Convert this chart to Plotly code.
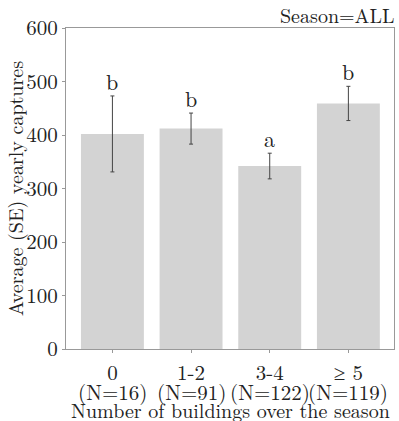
import plotly.graph_objects as go

categories = ["0", "1-2", "3-4", "≥ 5"]
n_labels = ["(N=16)", "(N=91)", "(N=122)", "(N=119)"]
means = [402, 412, 342, 459]
se = [71, 29, 24, 32]
letters = ["b", "b", "a", "b"]

FONT = "Latin Modern Roman"
TXT = "#222222"
FS = 20
xs = list(range(len(categories)))

fig = go.Figure()
fig.add_trace(go.Bar(
    x=xs, y=means,
    marker=dict(color="#d3d3d3", line=dict(width=0)),
    error_y=dict(type="data", array=se, visible=True, color="#444444",
                 thickness=1, width=2),
    showlegend=False,
))

for x, m, s, l in zip(xs, means, se, letters):
    fig.add_annotation(x=x, y=m + s + 29, text=l, showarrow=False,
                       font=dict(family=FONT, size=22, color=TXT),
                       xanchor="center", yanchor="middle")

for x, n in zip(xs, n_labels):
    fig.add_annotation(x=x, y=0, yref="paper", text=n, showarrow=False,
                       xanchor="center", yanchor="middle", yshift=-42,
                       font=dict(family=FONT, size=21, color=TXT))

fig.add_annotation(x=0.5, y=0, xref="paper", yref="paper",
                   text="Number of buildings over the season",
                   showarrow=False, xanchor="center", yanchor="middle",
                   yshift=-60, font=dict(family=FONT, size=FS, color=TXT))

fig.add_annotation(x=1, y=1, xref="paper", yref="paper", text="Season=ALL",
                   showarrow=False, xanchor="right", yanchor="middle",
                   xshift=3, yshift=14,
                   font=dict(family=FONT, size=FS, color=TXT))

fig.update_layout(
    width=399, height=421,
    margin=dict(l=66, r=5, t=28, b=72),
    paper_bgcolor="white", plot_bgcolor="white",
    bargap=0.2,
    font=dict(family=FONT, size=FS, color=TXT),
    xaxis=dict(
        tickmode="array", tickvals=xs, ticktext=categories,
        range=[-0.59, 3.58],
        showline=True, linecolor="#999999", linewidth=1, mirror=True,
        ticks="outside", ticklen=3, tickcolor="#999999",
        ticklabelstandoff=2,
        showgrid=False, zeroline=False,
        tickfont=dict(family=FONT, size=21, color=TXT),
    ),
    yaxis=dict(
        range=[0, 600], tickvals=[0, 100, 200, 300, 400, 500, 600],
        showline=True, linecolor="#999999", linewidth=1, mirror=True,
        ticks="outside", ticklen=3, tickcolor="#999999",
        showgrid=False, zeroline=False,
        tickfont=dict(family=FONT, size=21, color=TXT),
        title=dict(text="Average (SE) yearly captures", standoff=5,
                   font=dict(family=FONT, size=FS, color=TXT)),
    ),
)

fig.write_html("out.html")
